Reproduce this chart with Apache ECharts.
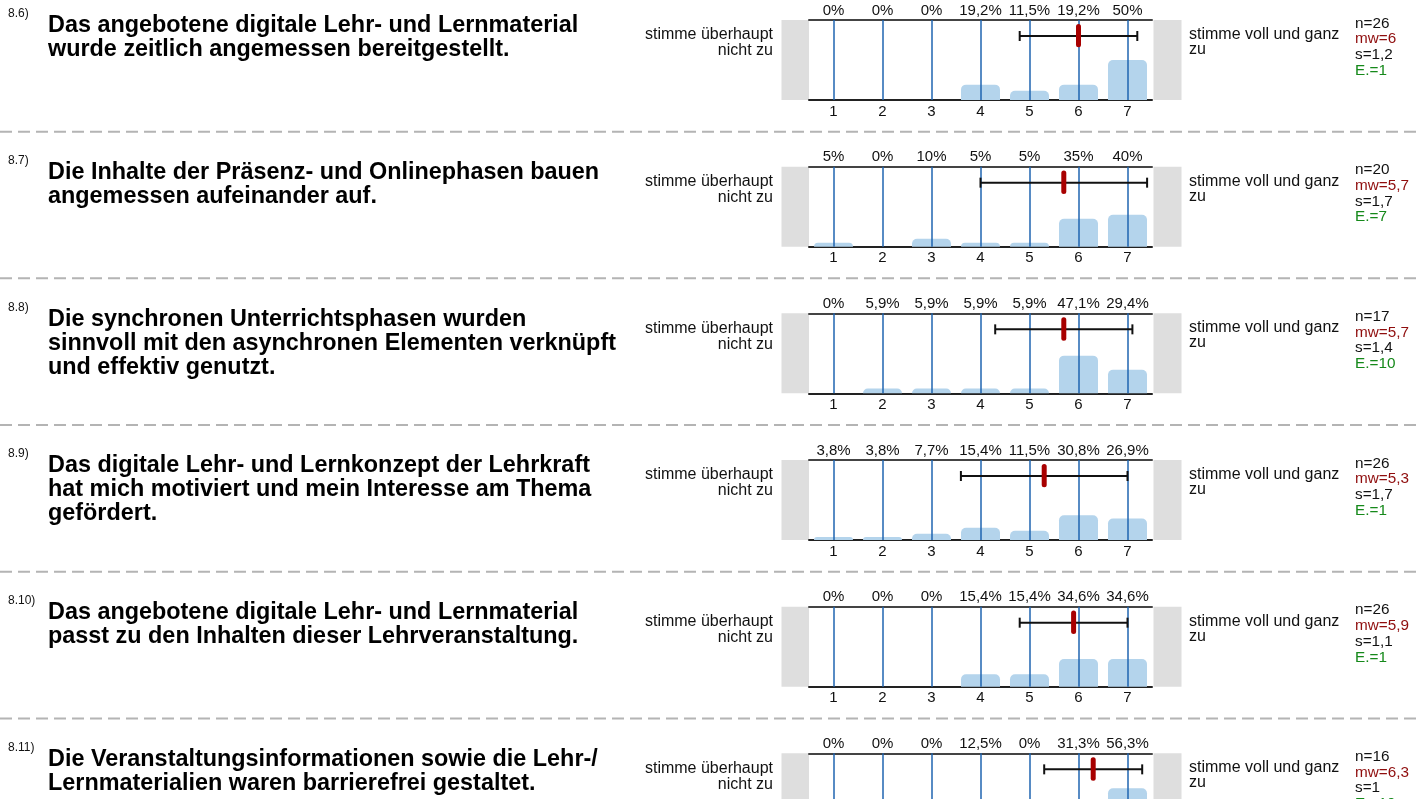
<!DOCTYPE html>
<html><head><meta charset="utf-8">
<script src="https://cdn.jsdelivr.net/npm/echarts@6/dist/echarts.min.js"></script>
<style>html,body{margin:0;padding:0;background:#fff;overflow:hidden}#c{width:1417px;height:880px}</style>
</head><body><div id="c"></div>
<script>
// ---- data ----
const itemNumbers = ['8.6)', '8.7)', '8.8)', '8.9)', '8.10)', '8.11)'];
const questions = [
  'Das angebotene digitale Lehr- und Lernmaterial\nwurde zeitlich angemessen bereitgestellt.',
  'Die Inhalte der Präsenz- und Onlinephasen bauen\nangemessen aufeinander auf.',
  'Die synchronen Unterrichtsphasen wurden\nsinnvoll mit den asynchronen Elementen verknüpft\nund effektiv genutzt.',
  'Das digitale Lehr- und Lernkonzept der Lehrkraft\nhat mich motiviert und mein Interesse am Thema\ngefördert.',
  'Das angebotene digitale Lehr- und Lernmaterial\npasst zu den Inhalten dieser Lehrveranstaltung.',
  'Die Veranstaltungsinformationen sowie die Lehr-/\nLernmaterialien waren barrierefrei gestaltet.'
];
const categories = ['1', '2', '3', '4', '5', '6', '7'];
const pct86  = [0, 0, 0, 19.2, 11.5, 19.2, 50];
const pct87  = [5, 0, 10, 5, 5, 35, 40];
const pct88  = [0, 5.9, 5.9, 5.9, 5.9, 47.1, 29.4];
const pct89  = [3.8, 3.8, 7.7, 15.4, 11.5, 30.8, 26.9];
const pct810 = [0, 0, 0, 15.4, 15.4, 34.6, 34.6];
const pct811 = [0, 0, 0, 12.5, 0, 31.3, 56.3];
const nValues    = [26, 20, 17, 26, 26, 16];
const meanValues = [6, 5.7, 5.7, 5.3, 5.9, 6.3];
const sdValues   = [1.2, 1.7, 1.4, 1.7, 1.1, 1];
const abstValues = [1, 7, 10, 1, 1, 10];
const leftLabel  = 'stimme überhaupt\nnicht zu';
const rightLabel = 'stimme voll und ganz\nzu';

const allPct = [pct86, pct87, pct88, pct89, pct810, pct811];

// ---- layout ----
const FF = '"Liberation Sans", Arial, Helvetica, sans-serif';
const TOP0 = 20, PITCH = 146.67, PLOT_H = 80, PLOT_L = 809, PLOT_W = 343;
const fmtNum = v => String(v).replace('.', ',');
const fmtPct = v => fmtNum(v) + '%';

const grids = [], xAxes = [], yAxes = [], series = [], graphics = [];

allPct.forEach((pct, i) => {
  const top = TOP0 + i * PITCH;
  grids.push({ left: PLOT_L, top: top, width: PLOT_W, height: PLOT_H, containLabel: false });
  xAxes.push({
    type: 'category', gridIndex: i, position: 'bottom', data: categories,
    axisLine: { onZero: false, lineStyle: { color: '#222', width: 2 } },
    axisTick: { show: false }, splitLine: { show: false },
    axisLabel: { color: '#111', fontSize: 15, fontFamily: FF, margin: 4 }
  });
  xAxes.push({
    type: 'category', gridIndex: i, position: 'top', data: pct.map(fmtPct),
    axisLine: { onZero: false, lineStyle: { color: '#444', width: 2 } },
    axisTick: { show: false }, splitLine: { show: false },
    axisLabel: { color: '#111', fontSize: 15, fontFamily: FF, margin: 2, interval: 0 }
  });
  xAxes.push({ type: 'value', gridIndex: i, min: 0.5, max: 7.5, show: false });
  yAxes.push({ type: 'value', gridIndex: i, min: 0, max: 100, show: false });

  series.push({
    type: 'bar', xAxisIndex: 3 * i, yAxisIndex: i, data: pct, barWidth: 39,
    itemStyle: { color: '#b4d4ec', borderRadius: [5, 5, 0, 0] },
    silent: true, animation: false,
    markLine: {
      silent: true, symbol: 'none', animation: false,
      label: { show: false },
      lineStyle: { color: '#1f64b0', width: 1.5, type: 'solid', opacity: 1 },
      data: categories.map((c, k) => ({ xAxis: k }))
    }
  });
  series.push({
    type: 'custom', xAxisIndex: 3 * i + 2, yAxisIndex: i,
    data: [[meanValues[i], sdValues[i]]], animation: false, silent: true, z: 5,
    renderItem: function (params, api) {
      const m = api.value(0), s = api.value(1);
      const pL = api.coord([m - s, 80]);
      const pR = api.coord([m + s, 80]);
      const a = api.coord([m, 92]);
      const b = api.coord([m, 69]);
      const blk = { stroke: '#111', lineWidth: 2 };
      return {
        type: 'group', children: [
          { type: 'line', shape: { x1: pL[0], y1: pL[1], x2: pR[0], y2: pR[1] }, style: blk },
          { type: 'line', shape: { x1: pL[0], y1: pL[1] - 5, x2: pL[0], y2: pL[1] + 5 }, style: blk },
          { type: 'line', shape: { x1: pR[0], y1: pR[1] - 5, x2: pR[0], y2: pR[1] + 5 }, style: blk },
          { type: 'line', shape: { x1: a[0], y1: a[1], x2: b[0], y2: b[1] },
            style: { stroke: '#a80000', lineWidth: 5, lineCap: 'round' } }
        ]
      };
    }
  });

  // gray end boxes
  graphics.push({ type: 'rect', shape: { x: 781.5, y: top, width: 27.5, height: PLOT_H }, style: { fill: '#dedede' }, z: -1 });
  graphics.push({ type: 'rect', shape: { x: 1153.5, y: top, width: 28, height: PLOT_H }, style: { fill: '#dedede' }, z: -1 });

  // item number
  graphics.push({ type: 'text', x: 8, y: top - 6, style: { text: itemNumbers[i], font: '12px ' + FF, fill: '#111', textAlign: 'left', textVerticalAlign: 'middle' } });
  // question text
  graphics.push({ type: 'text', x: 48, y: top - 6, style: { text: questions[i], font: 'bold 23.4px ' + FF, fill: '#000', textAlign: 'left', textVerticalAlign: 'top', lineHeight: 24 } });
  // scale labels
  graphics.push({ type: 'text', x: 773, y: top + 7, style: { text: leftLabel, font: '16px ' + FF, fill: '#111', textAlign: 'right', textVerticalAlign: 'top', lineHeight: 16 } });
  graphics.push({ type: 'text', x: 1189, y: top + 7, style: { text: rightLabel, font: '16px ' + FF, fill: '#111', textAlign: 'left', textVerticalAlign: 'top', lineHeight: 15 } });
  // stats
  const stats = [
    ['n=' + nValues[i], '#111'],
    ['mw=' + fmtNum(meanValues[i]), '#8f0d0d'],
    ['s=' + fmtNum(sdValues[i]), '#111'],
    ['E.=' + abstValues[i], '#15891a']
  ];
  stats.forEach((st, k) => {
    graphics.push({ type: 'text', x: 1355, y: top - 4 + k * 15.7, style: { text: st[0], font: '15.3px ' + FF, fill: st[1], textAlign: 'left', textVerticalAlign: 'top' } });
  });
  // separator
  if (i < allPct.length - 1) {
    graphics.push({ type: 'line', shape: { x1: 0, y1: top + 111.7, x2: 1417, y2: top + 111.7 }, style: { stroke: '#b4b4b4', lineWidth: 2, lineDash: [12, 6] } });
  }
});

const chart = echarts.init(document.getElementById('c'), null, { renderer: 'canvas' });
chart.setOption({
  backgroundColor: '#ffffff',
  animation: false,
  grid: grids, xAxis: xAxes, yAxis: yAxes, series: series,
  graphic: { elements: graphics }
});
</script></body></html>
